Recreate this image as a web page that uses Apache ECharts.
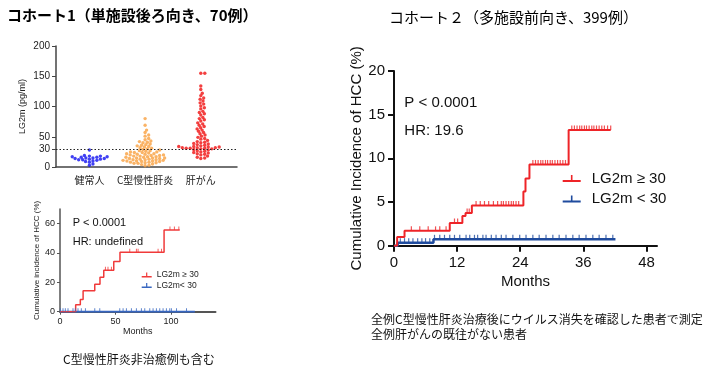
<!DOCTYPE html>
<html><head><meta charset="utf-8">
<script src="https://cdn.jsdelivr.net/npm/echarts@6/dist/echarts.min.js"></script>
<style>html,body{margin:0;padding:0;background:#fff}#c{width:710px;height:371px}</style>
</head><body><div id="c"></div>
<script>
// ---------- data ----------
const groupNames = ['健常人', 'C型慢性肝炎', '肝がん'];
const healthy = [28, 19, 18, 18, 17, 17, 16, 16, 15, 15, 14, 14, 13, 13, 12, 12, 11, 10, 9, 8, 5, 3];
const chronicC = [80, 69, 61, 57, 53, 51, 47, 45, 43, 42, 41, 40, 38, 37, 36, 35, 34, 33, 32, 31, 30, 29, 28, 27, 27, 26, 25, 25, 24, 24, 23, 22, 22, 21, 21, 20, 20, 19, 19, 18, 18, 17, 17, 16, 16, 15, 15, 15, 14, 14, 13, 13, 12, 12, 12, 11, 11, 10, 10, 10, 9, 9, 8, 8, 7, 7, 6, 6, 5, 4, 3, 2];
const hcc = [155, 155, 134, 128, 122, 118, 114, 112, 109, 106, 104, 101, 98, 96, 92, 90, 88, 86, 82, 80, 78, 76, 73, 71, 69, 67, 65, 63, 61, 59, 57, 55, 53, 51, 49, 47, 46, 44, 42, 41, 40, 39, 38, 37, 36, 35, 34, 34, 33, 33, 32, 32, 32, 31, 31, 31, 30, 30, 29, 28, 27, 26, 25, 24, 23, 22, 21, 20, 18, 16, 15, 14];
const scatterYTicks = [0, 30, 50, 100, 150, 200];
const cutoff = 30;

const km1High = [[0, 0], [14.1, 4.8], [18.3, 8.4], [20.8, 14.3], [31.3, 18.7], [36, 23.4], [39.4, 28.2], [48.4, 34.3], [54, 40.5], [93.7, 55.7], [107.8, 55.7]];
const km1HighCensor = [40.9, 43.2, 46.3, 62.8, 68.8, 70.3, 88.3, 91.4, 99, 103, 107];
const km1Low = [[0, 0], [121.4, 0]];
const km1LowCensor = [0.3, 2.7, 4.8, 7.2, 11.7, 13.8, 16.2, 19.2, 22.9, 31.3, 35.8, 53.8, 56.8, 59.8, 64.3, 68.8, 73.3, 76.3, 80.8, 83.8, 86.8, 89.8, 92.8, 95.8, 98.8, 100.3, 104.9, 113.9];
const km1XTicks = [0, 50, 100];
const km1YTicks = [0, 20, 40, 60];

const km2High = [[0, 0], [0.6, 1.0], [2.0, 1.7], [10.6, 2.6], [13.0, 3.4], [13.6, 3.75], [14.8, 4.6], [24.6, 6.2], [25.0, 7.7], [25.75, 9.3], [33.2, 13.25], [41.2, 13.25]];
const km2HighCensor = [3.3, 4.9, 6.5, 7.9, 8.7, 9.9, 11.5, 12.1, 13.9, 14.3, 15.6, 16.4, 17.2, 18.0, 18.9, 19.7, 20.4, 20.8, 21.3, 21.8, 22.3, 22.7, 23.2, 23.7, 26.4, 26.9, 27.4, 27.9, 28.3, 28.8, 29.2, 29.7, 30.1, 30.6, 31.1, 31.6, 32.1, 32.6, 33.8, 34.3, 34.8, 35.3, 35.7, 36.2, 36.6, 37.1, 37.6, 38.0, 38.5, 39.0, 39.5, 40.0, 40.6, 41.2];
const km2Low = [[0, 0], [0.7, 0.35], [7.5, 0.73], [42.1, 0.73]];
const km2LowCensor = [1.2, 2.0, 2.8, 3.6, 4.5, 5.3, 6.0, 6.8, 7.7, 8.7, 9.6, 10.6, 11.5, 12.5, 13.7, 14.4, 15.3, 15.9, 16.9, 17.5, 18.5, 19.4, 20.4, 21.3, 22.6, 23.9, 25.1, 26.4, 27.6, 28.9, 30.2, 31.4, 32.7, 34.0, 35.2, 36.5, 37.8, 39.0, 40.3, 41.6];
const km2XTicks = [0, 12, 24, 36, 48];

// ---------- helpers ----------
const F = '"Liberation Sans", Arial, sans-serif';
const J = '"Noto Sans CJK JP", sans-serif';
function levelAt(steps, t) { let v = steps[0][1]; for (const s of steps) { if (s[0] <= t) v = s[1]; } return v; }
// beeswarm-style dodge (elliptical spacing: Dx horizontal, Dy vertical), pixel offsets
function swarm(values, pxPerUnit, Dx, Dy) {
  const order = values.map((v, i) => i).sort((a, b) => values[a] - values[b]);
  const placed = []; const off = new Array(values.length);
  order.forEach(i => {
    const y = values[i] * pxPerUnit;
    const cands = [0];
    placed.forEach(p => {
      const dy = (y - p.y) / Dy;
      if (Math.abs(dy) < 1) { const dx = Math.sqrt(1 - dy * dy) * Dx; cands.push(p.x + dx, p.x - dx); }
    });
    cands.sort((a, b) => Math.abs(a) - Math.abs(b));
    let best = 0;
    for (const c of cands) {
      if (placed.every(p => ((p.x - c) / Dx) ** 2 + ((p.y - y) / Dy) ** 2 >= 1 - 1e-6)) { best = c; break; }
    }
    placed.push({ x: best, y }); off[i] = best;
  });
  return off;
}

// grid geometry
const gA = { left: 56, top: 46, width: 181, height: 121 };
const gB = { left: 60, top: 209, width: 155.5, height: 102.7 };
const gC = { left: 394, top: 71, width: 263, height: 174.7 };

const pxPerUnitA = gA.height / 200;
const groups = [healthy, chronicC, hcc];
const groupColors = ['#1010F0', '#F9A040', '#F01010'];
const scatterSeries = groups.map((vals, gi) => {
  const off = swarm(vals, pxPerUnitA, 4.0, 2.6);
  return {
    type: 'scatter', xAxisIndex: 0, yAxisIndex: 0, symbolSize: 3.4, silent: true,
    itemStyle: { color: groupColors[gi] },
    data: vals.map((v, i) => ({ value: [gi, v], symbolOffset: [off[i], 0] })),
    markLine: gi === 0 ? {
      silent: true, symbol: 'none', label: { show: false },
      lineStyle: { type: [1.5, 2], color: '#222', width: 1.2 },
      data: [{ yAxis: cutoff }]
    } : undefined
  };
});

function kmLine(name, steps, color, width, xi) {
  return { name, type: 'line', step: 'end', xAxisIndex: xi, yAxisIndex: xi, showSymbol: false, silent: true,
    color, lineStyle: { color, width }, itemStyle: { color }, data: steps, z: 3 };
}
function kmCensor(steps, times, color, xi, size) {
  return { type: 'scatter', xAxisIndex: xi, yAxisIndex: xi, symbol: 'rect', symbolSize: size,
    symbolOffset: [0, -size[1] / 2], silent: true, itemStyle: { color }, z: 4,
    data: times.map(t => [t, levelAt(steps, t)]) };
}

const red1 = '#F03A3A', blue1 = '#3766C0';
const red2 = '#EE2428', blue2 = '#1F4B9E';

const option = {
  animation: false,
  backgroundColor: '#fff',
  title: [
    { text: 'コホート1（単施設後ろ向き、70例）', left: 7, top: 8, padding: 0,
      textStyle: { fontFamily: J, fontSize: 15, fontWeight: 'bold', color: '#000' } },
    { text: 'コホート２（多施設前向き、399例）', left: 389, top: 10, padding: 0,
      textStyle: { fontFamily: J, fontSize: 15, fontWeight: 'normal', color: '#000' } }
  ],
  grid: [
    Object.assign({}, gA), Object.assign({}, gB), Object.assign({}, gC)
  ],
  legend: [
    { orient: 'vertical', left: 141.7, top: 270.5, padding: 0, itemGap: 1.5, itemWidth: 10, itemHeight: 5,
      symbolKeepAspect: false, icon: 'path://M0,3.4 L10,3.4 L10,5 L0,5 Z M4.4,0 L5.6,0 L5.6,3.4 L4.4,3.4 Z',
      itemStyle: { borderWidth: 0 }, selectedMode: false,
      textStyle: { fontFamily: F, fontSize: 8.5, color: '#222' },
      data: ['LG2m ≥ 30', 'LG2m< 30'] },
    { orient: 'vertical', left: 562.7, top: 171, padding: 0, itemGap: 5.5, itemWidth: 18, itemHeight: 7,
      symbolKeepAspect: false, icon: 'path://M0,5 L18,5 L18,7 L0,7 Z M8.2,0 L9.8,0 L9.8,5 L8.2,5 Z',
      itemStyle: { borderWidth: 0 }, selectedMode: false,
      textStyle: { fontFamily: F, fontSize: 15, color: '#111', padding: [0, 0, 0, 6] },
      data: ['LG2m ≥ 30 ', 'LG2m < 30'] }
  ],
  xAxis: [
    { gridIndex: 0, type: 'value', min: -0.6, max: 2.65,
      axisLine: { lineStyle: { color: '#444', width: 1.5 } }, axisTick: { show: false }, splitLine: { show: false },
      axisLabel: { customValues: [0, 1, 2], formatter: v => groupNames[Math.round(v)] || '', margin: 8,
        fontFamily: J, fontSize: 10, color: '#222' } },
    { gridIndex: 1, type: 'value', min: 0, max: 140, splitLine: { show: false },
      name: 'Months', nameLocation: 'middle', nameGap: 15, nameTextStyle: { fontFamily: F, fontSize: 9, color: '#222' },
      axisLine: { lineStyle: { color: '#555', width: 2 } },
      axisTick: { customValues: km1XTicks, length: 3, lineStyle: { color: '#555' } },
      axisLabel: { customValues: km1XTicks, margin: 5, fontFamily: F, fontSize: 9, color: '#222' } },
    { gridIndex: 2, type: 'value', min: 0, max: 50, splitLine: { show: false },
      name: 'Months', nameLocation: 'middle', nameGap: 29, nameTextStyle: { fontFamily: F, fontSize: 15, color: '#111' },
      axisLine: { lineStyle: { color: '#111', width: 2 } },
      axisTick: { customValues: km2XTicks, length: 6, lineStyle: { color: '#111', width: 2 } },
      axisLabel: { customValues: km2XTicks, margin: 10, fontFamily: F, fontSize: 15, color: '#111' } }
  ],
  yAxis: [
    { gridIndex: 0, type: 'value', min: 0, max: 200, splitLine: { show: false },
      name: 'LG2m (pg/ml)', nameLocation: 'middle', nameGap: 29, nameRotate: 90,
      nameTextStyle: { fontFamily: F, fontSize: 9, color: '#222' },
      axisLine: { show: true, onZero: false, lineStyle: { color: '#444', width: 1.5 } },
      axisTick: { show: true, customValues: scatterYTicks, length: 4, lineStyle: { color: '#444' } },
      axisLabel: { customValues: scatterYTicks, margin: 6, fontFamily: F, fontSize: 10, color: '#222' } },
    { gridIndex: 1, type: 'value', min: 0, max: 70, splitLine: { show: false },
      name: 'Cumulative incidence of HCC (%)', nameLocation: 'middle', nameGap: 17, nameRotate: 90,
      nameTextStyle: { fontFamily: F, fontSize: 8, color: '#222' },
      axisLine: { show: true, lineStyle: { color: '#555', width: 1.5 } },
      axisTick: { show: true, customValues: km1YTicks, length: 3, lineStyle: { color: '#555' } },
      axisLabel: { customValues: km1YTicks, margin: 5, fontFamily: F, fontSize: 9, color: '#222' } },
    { gridIndex: 2, type: 'value', min: 0, max: 20, interval: 5, splitLine: { show: false },
      name: 'Cumulative Incidence of HCC (%)', nameLocation: 'middle', nameGap: 29, nameRotate: 90,
      nameTextStyle: { fontFamily: F, fontSize: 15, color: '#111' },
      axisLine: { show: true, lineStyle: { color: '#111', width: 2 } },
      axisTick: { show: true, length: 6, lineStyle: { color: '#111', width: 2 } },
      axisLabel: { margin: 9, fontFamily: F, fontSize: 15, color: '#111' } }
  ],
  graphic: [
    { type: 'text', left: 72.7, top: 217.5, style: { text: 'P < 0.0001', fontFamily: F, fontSize: 11, fill: '#111' } },
    { type: 'text', left: 72.7, top: 236, style: { text: 'HR: undefined', fontFamily: F, fontSize: 11, fill: '#111' } },
    { type: 'text', left: 404.3, top: 95.5, style: { text: 'P < 0.0001', fontFamily: F, fontSize: 15, fill: '#111' } },
    { type: 'text', left: 404.3, top: 123.8, style: { text: 'HR: 19.6', fontFamily: F, fontSize: 15, fill: '#111' } },
    { type: 'text', left: 63, top: 353, style: { text: 'C型慢性肝炎非治癒例も含む', fontFamily: J, fontSize: 12, fill: '#111' } },
    { type: 'text', left: 371, top: 313, style: { text: '全例C型慢性肝炎治療後にウイルス消失を確認した患者で測定', fontFamily: J, fontSize: 12, fill: '#111' } },
    { type: 'text', left: 371, top: 328, style: { text: '全例肝がんの既往がない患者', fontFamily: J, fontSize: 12, fill: '#111' } }
  ],
  series: [
    ...scatterSeries,
    kmLine('LG2m< 30', km1Low, blue1, 2, 1),
    kmCensor(km1Low, km1LowCensor, blue1, 1, [1, 3.5]),
    kmLine('LG2m ≥ 30', km1High, red1, 1.5, 1),
    kmCensor(km1High, km1HighCensor, red1, 1, [1, 3.5]),
    kmLine('LG2m < 30', km2Low, blue2, 2.5, 2),
    kmCensor(km2Low, km2LowCensor, blue2, 2, [1.2, 4.5]),
    kmLine('LG2m ≥ 30 ', km2High, red2, 2, 2),
    kmCensor(km2High, km2HighCensor, red2, 2, [1.2, 4.5])
  ]
};
const chart = echarts.init(document.getElementById('c'), null, { renderer: 'canvas' });
chart.setOption(option);
</script>
</body></html>
